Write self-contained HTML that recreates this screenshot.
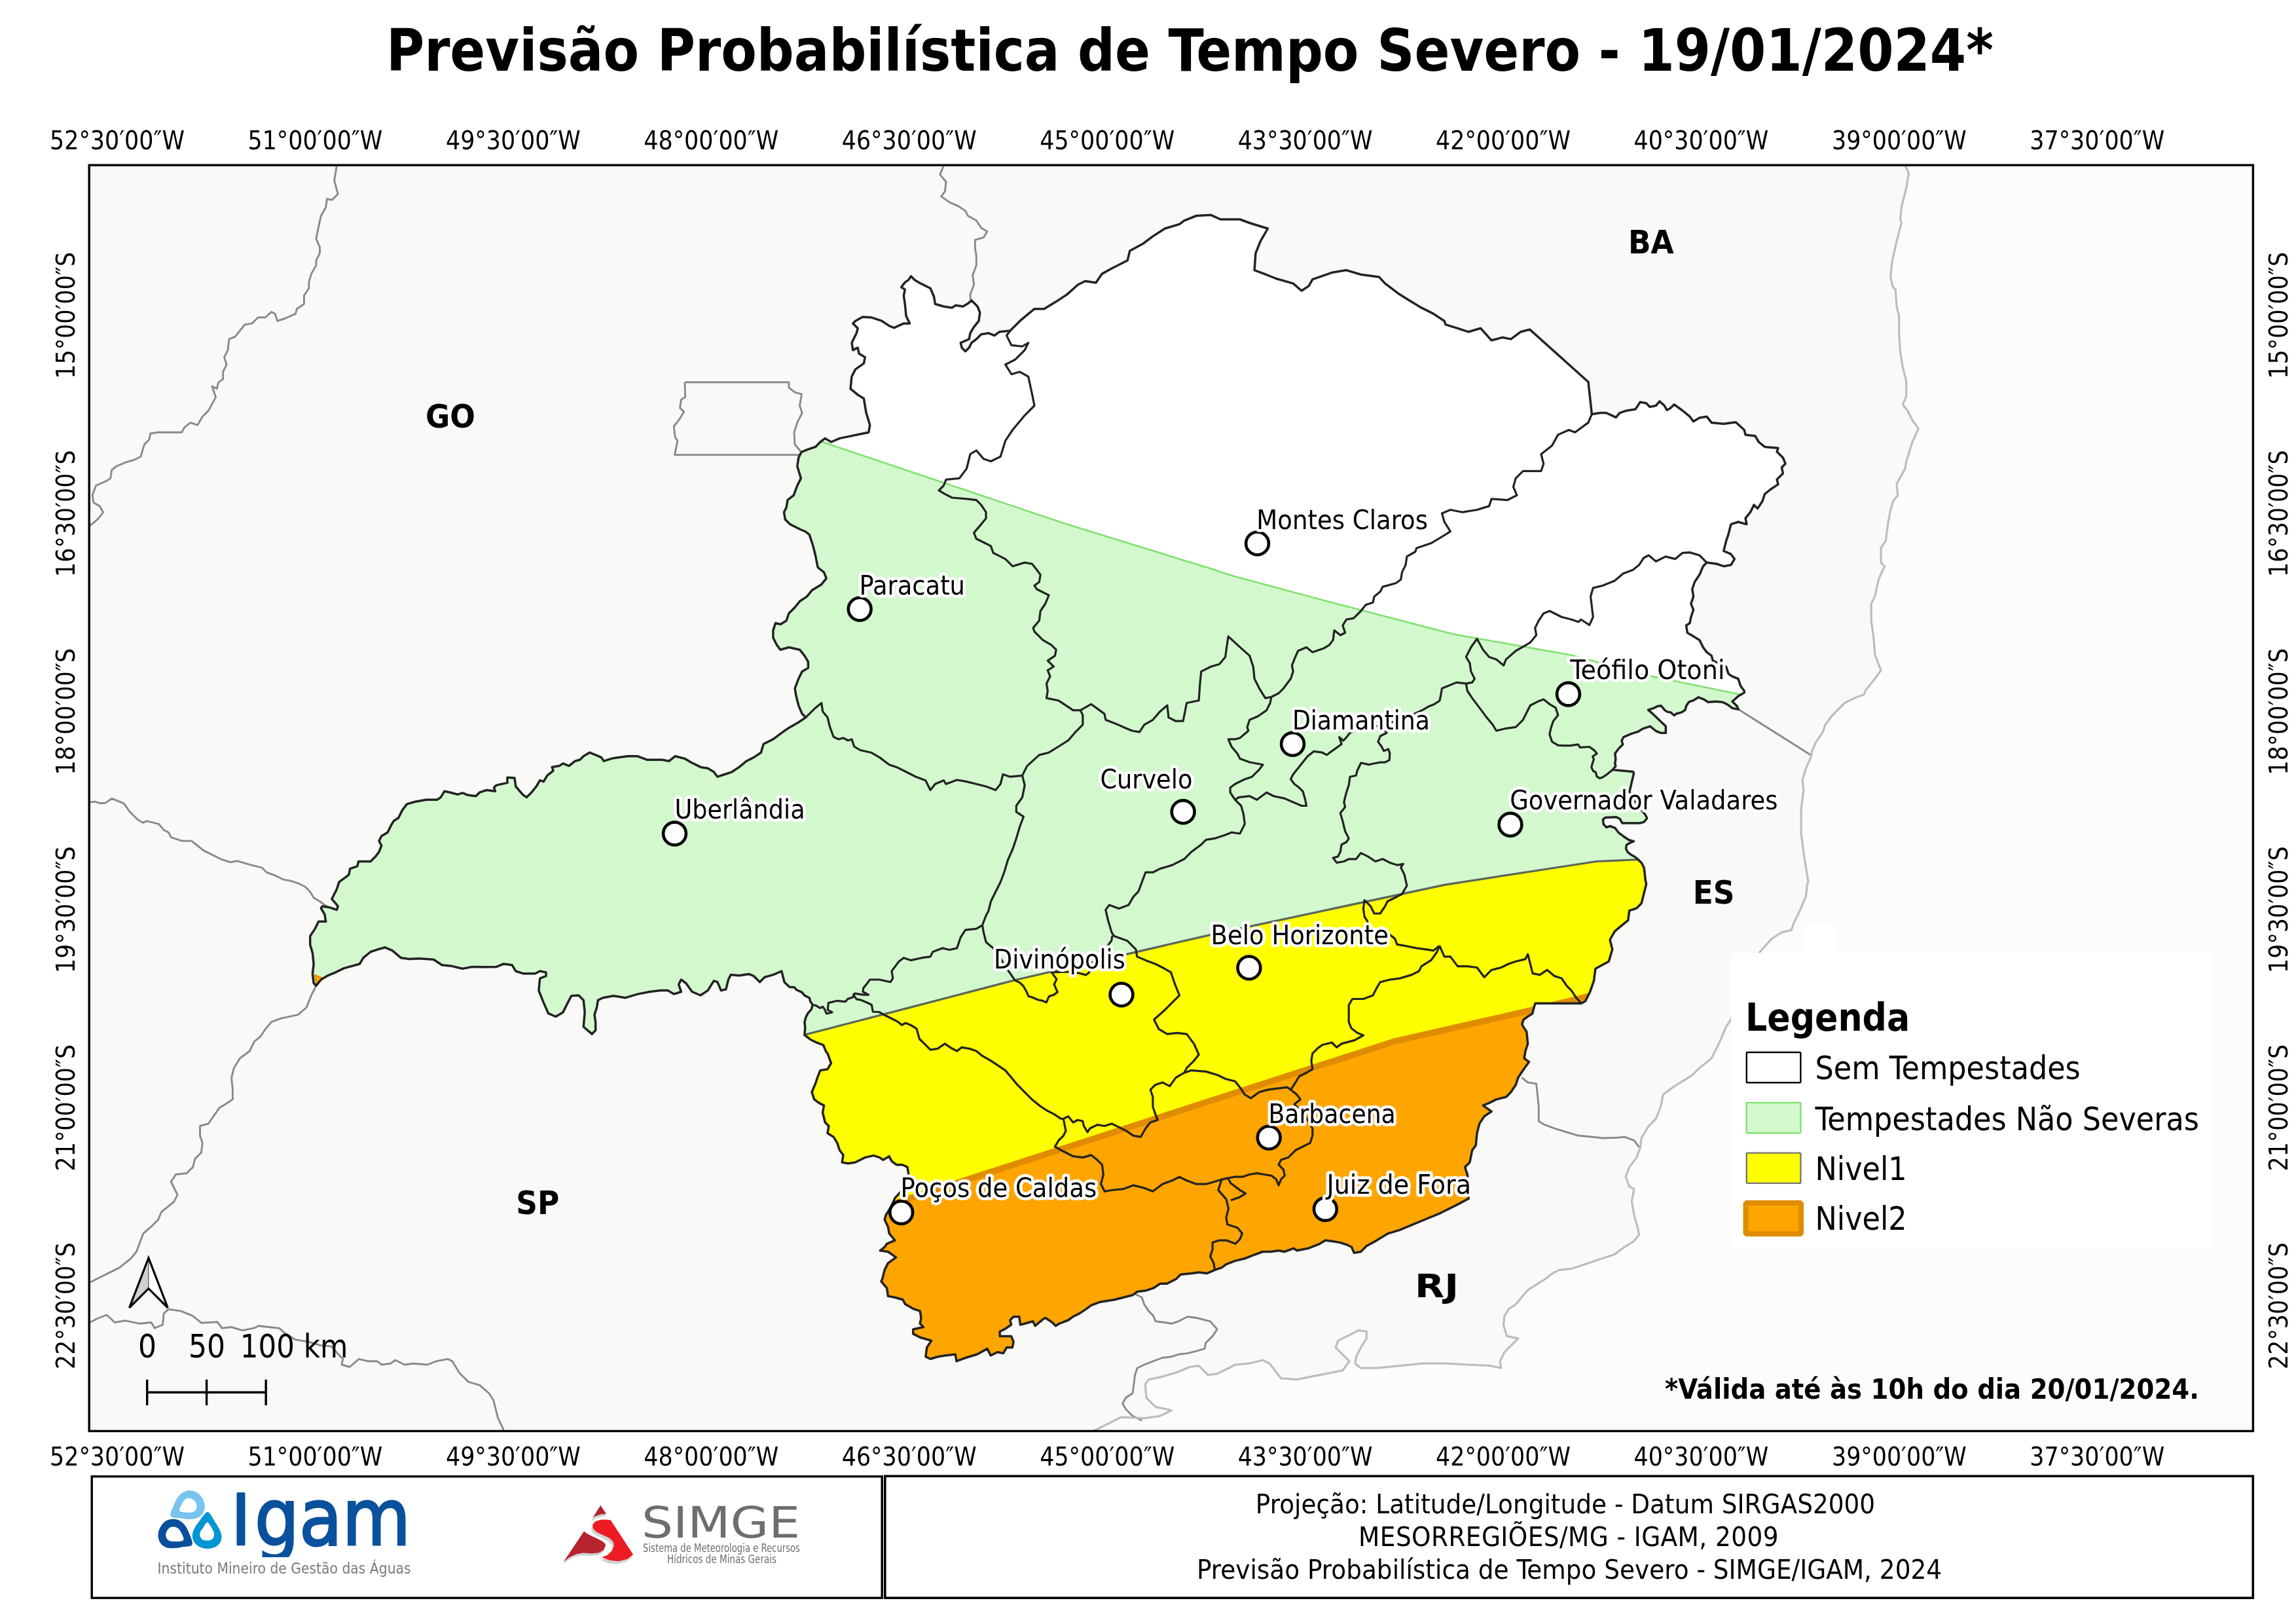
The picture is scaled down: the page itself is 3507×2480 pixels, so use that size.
<!DOCTYPE html>
<html><head><meta charset="utf-8"><title>Previsão Probabilística de Tempo Severo - 19/01/2024</title>
<style>
html,body{margin:0;padding:0;background:#fff;width:3507px;height:2480px;overflow:hidden}
svg{display:block;will-change:transform;font-family:"DejaVu Sans","Liberation Sans",sans-serif;font-stretch:condensed}
</style></head><body>
<svg width="3507" height="2480" viewBox="0 0 3507 2480" xmlns="http://www.w3.org/2000/svg">
<defs>
<clipPath id="mapclip"><rect x="137" y="253" width="3303" height="1931"/></clipPath>
<pattern id="hatch" width="3" height="3" patternUnits="userSpaceOnUse"><rect width="3" height="3" fill="#e4e4e4"/><path d="M0 3L3 0" stroke="#999" stroke-width="0.8"/></pattern>
</defs>
<!-- title -->
<text x="1817.3" y="107.6" font-size="88.4" font-weight="bold" text-anchor="middle">Previsão Probabilística de Tempo Severo - 19/01/2024*</text>

<!-- map background -->
<rect x="137" y="253" width="3303" height="1931" fill="#f9f9f8"/>
<g id="map" clip-path="url(#mapclip)">
<defs><clipPath id="mgc"><path d="M1223.4 691.6L1225.2 689.8 1234.4 686.1 1245.5 682.4 1252.9 675 1260.3 669.4 1269.5 675 1282.5 669.4 1326.8 660.2 1328.7 649.1 1323.1 630.6 1319.4 608.5 1310.2 602.9 1299.1 593.7 1300.9 575.2 1306.5 564.1 1319.5 554.9 1321.3 545.6 1312.1 540.1 1310.2 530.9 1302.8 534.6 1301 523.5 1308.3 508.7 1310.2 501.3 1302.8 493.9 1306.5 490.2 1317.6 483.9 1330.5 484.7 1347.2 490.2 1358.2 497.6 1365.6 500.6 1380.4 493.9 1389.6 493.9 1384.1 482.8 1382.3 464.3 1380.4 451.4 1382.3 442.2 1376.7 438.5 1382.3 431.1 1387.8 427.4 1391.5 421.8 1397 427.4 1406.3 432.9 1421.1 440.3 1426.6 453.3 1428.4 464.3 1441.4 468 1454.3 469.9 1459.8 466.2 1470.9 468 1478.4 463.6 1483.9 458.8 1493.1 468 1496.8 477.3 1495 490.2 1487.6 499.4 1482 508.7 1480.2 517.9 1467.3 523.5 1469.1 530.9 1474.6 536.4 1480.2 530.9 1483.9 523.5 1491.3 517.9 1498.7 510.5 1509.8 508.7 1519 512.4 1526.4 506.8 1543 505 1557.8 490.2 1580 471.7 1594.8 471.7 1613.2 460.6 1629.9 449.6 1646.5 434.8 1657.6 429.2 1674 431.8 1683.3 418.1 1698 410 1722.1 397.8 1725.8 383 1746.1 372 1760.9 360.9 1779.3 349 1801.5 342.4 1808.9 336.8 1827.4 329.5 1849.6 328.3 1864.3 335 1893.9 335 1908.7 340.5 1936.4 349 1925.3 368.3 1917.9 386.7 1916.1 412.6 1930.9 418.1 1949.3 425.5 1975.2 432.9 1988.1 444 1999.2 436.6 2004.8 426.6 2034.3 416.3 2056.5 412.6 2078.7 419.3 2106.4 422.9 2115.6 432.9 2137.8 449.6 2152.6 458.8 2171.1 469.9 2189.5 479.1 2206.2 490.2 2208 495.7 2226.5 501.3 2243.1 506.8 2261.6 501.3 2278.2 519.8 2294.9 515.3 2307.8 517.9 2322.6 506.8 2336.6 503.1 2426 583.3 2431.4 632.5 2444.3 630.6 2453.6 630.6 2468.4 637.3 2473.9 630.6 2485 626.9 2497.9 625.1 2505.3 614 2514.6 615.8 2520.1 621.4 2529.3 619.5 2534.9 612.9 2542.3 619.5 2546 626.2 2551.5 623.2 2557.1 617.7 2570 627 2581.1 636.2 2586.6 643.6 2595.9 638 2606.9 636.2 2614.3 645.4 2632.8 647.3 2651.3 644.7 2664.2 656.5 2666.1 663.9 2680.9 665.7 2686.4 675 2695.6 682.4 2716 684.2 2714.1 689.8 2723.4 699 2727.1 708.2 2721.5 713.8 2723.4 723 2714.1 732.3 2716 739.6 2704.9 747 2695.6 754.4 2691.9 765.5 2684.6 776.6 2679 771.1 2673.5 782.2 2666.1 791.4 2667.9 800.6 2655 797 2643.9 800.6 2640.2 815.4 2636.5 826.5 2632.8 841.3 2643.9 846.2 2649.4 853.6 2643.9 862.8 2632.8 864.7 2621.7 861 2606.9 859.1 2601.4 864.7 2595.9 877.6 2588.5 888.7 2584.8 899.8 2586.6 910.9 2582.9 922 2586.6 931.2 2582.9 942.3 2581.1 951.5 2575.5 955.2 2577.4 966.3 2586.6 971.8 2595.9 977.4 2601.4 988.5 2606.9 995.9 2614.3 1001.4 2616.2 1008.8 2636.5 1018 2640.2 1029.1 2645.7 1032.8 2655 1036.5 2658.7 1047.6 2664.2 1055 2664.5 1057.4 2655.3 1062.9 2646 1071.2 2653.4 1078.6 2655.3 1083.3 2646 1081.4 2638.6 1075.9 2631.2 1072.2 2620.2 1071.2 2609.1 1072.2 2601.7 1067.6 2594.3 1064.8 2586.9 1069.4 2579.5 1072.2 2575.8 1077.7 2574 1084.2 2568.4 1087.9 2561 1089.7 2557.3 1092.5 2551.8 1087.9 2546.3 1086.9 2542.6 1084.2 2537 1077.7 2531.5 1078.6 2525.9 1081.4 2517.6 1084.2 2524.1 1089.7 2544.4 1109.1 2544.4 1119.3 2537 1119.3 2529.6 1116.5 2520.4 1109.1 2509.3 1112.8 2501.9 1117.4 2492.7 1120.2 2479.8 1125.7 2477 1131.3 2478.8 1136.8 2472.4 1143.3 2466.8 1150.7 2467.8 1159 2466.8 1166.4 2467.8 1170.1 2463.1 1175.6 2494.5 1178.4 2495.5 1181.2 2489 1208.9 2500 1228 2513 1244 2515.8 1249.5 2511.2 1255.1 2505.6 1256.9 2477.9 1256.9 2474.2 1250.4 2468.7 1247.7 2452 1248.6 2448.4 1251.4 2449.3 1258.8 2453.9 1263.4 2459.4 1261.5 2466.8 1264.3 2472.4 1271.7 2479.8 1277.2 2488.1 1282.8 2495.5 1284.6 2489 1287.4 2484.4 1290.2 2483.5 1295.7 2486.2 1301.2 2490.8 1304.9 2497.3 1308.6 2501.9 1312.3 2507.5 1317.9 2511.2 1325.3 2512.1 1332.7 2513 1341.9 2514.6 1350 2510.9 1364.8 2507.2 1379.6 2499.8 1387 2488.7 1390.7 2486.8 1405.4 2477.6 1412.8 2466.5 1422.1 2459.1 1435 2462.8 1449.8 2457.3 1468.3 2437 1479.3 2435.5 1490 2434.7 1497.4 2428.6 1514.8 2421.6 1528.8 2415.5 1532.3 2344.9 1532.3 2342.3 1541 2340.6 1548 2333.6 1552.3 2326.7 1557.5 2324.9 1564.5 2328.4 1570.6 2331.8 1575.4 2333.7 1593.9 2330 1605 2328.1 1616.1 2335.5 1621.6 2326.3 1634.6 2318.9 1645.6 2315.2 1656.7 2307.8 1667.8 2300.4 1675.2 2285.6 1678.9 2274.5 1684.4 2265.3 1688.1 2278.2 1697.4 2267.1 1704.8 2259.8 1715.9 2256 1730.6 2254.2 1749.1 2248.7 1756.5 2245 1775 2237.6 1782.4 2241.3 1793.5 2243.1 1808.2 2243.1 1830.4 2224.9 1840.1 2200.5 1852.3 2179.6 1861 2158.7 1869.7 2137.8 1878.4 2120.4 1883.6 2103 1894.1 2087.3 1902.8 2078.6 1911.5 2068.1 1913.2 2064.6 1904.5 2057.7 1901 2047.2 1897.6 2036.8 1895.8 2024.6 1894.1 2015.9 1899.3 1998.4 1906.3 1981 1909.8 1975.8 1906.3 1961.8 1911.5 1953.1 1909.8 1940.9 1911.5 1928.7 1911.5 1914.8 1916.7 1900.9 1922 1886.9 1925.4 1873 1930.7 1866 1935.9 1855.6 1939.4 1843.4 1944.6 1831.2 1942.9 1820.7 1944.6 1803.3 1946.3 1796.3 1953.3 1782.4 1960.3 1772 1960.3 1761.5 1967.2 1751 1970.7 1737.1 1972.5 1730.1 1977.7 1716.2 1981.2 1702.3 1984.7 1680.5 1988.2 1666.6 1993.4 1659.6 1998.6 1649.1 2005.6 1638.7 2010.8 1631.7 2016 1617.8 2021.3 1612.5 2024.7 1607.3 2019.5 1596.9 2012.5 1593.4 2014.3 1581.2 2024.7 1577.7 2017.8 1565.5 2021.3 1558.5 2023 1556.8 2010.8 1548.1 2010.8 1542.9 2016 1544.6 2023 1534.1 2030 1527.2 2033.4 1527.2 2040.4 1544.6 2040.4 1548.1 2049.1 1546.3 2057.8 1537.6 2057.8 1532.4 2066.6 1523.7 2064.8 1513.2 2070 1508 2059.6 1492.3 2068.3 1474.9 2073.5 1461 2078.7 1459.2 2068.3 1443.6 2070 1433.1 2071.8 1421 2075.3 1413.9 2071.8 1415.7 2057.8 1422.6 2047.4 1405.2 2042.2 1394.8 2036.9 1394.8 2030 1410.5 2026.5 1405.2 2021.3 1407 2012.5 1405.2 2002.1 1394.8 1998.6 1382.6 1991.6 1379.1 1984.7 1366.9 1981.2 1356.4 1979.4 1354.7 1967.2 1346 1956.8 1347.7 1953.3 1351.2 1939.4 1356.4 1928.9 1368.6 1920.2 1356.4 1911.5 1344.3 1909.8 1351.2 1904.5 1354.7 1899.3 1366.9 1894.1 1358.2 1883.6 1356.4 1873.2 1351.2 1862.7 1353 1855.7 1361.7 1841.8 1366.9 1829.6 1374 1822 1384 1810 1387.8 1793.5 1386 1782.4 1378.6 1778.7 1369.3 1778.7 1361.9 1773.1 1358.2 1765.7 1349 1771.3 1343.5 1767.6 1334.3 1764.6 1321.3 1767.6 1306.5 1775 1295.4 1776.8 1286.2 1775 1288 1763.9 1282.5 1756.5 1278.8 1745.4 1273.2 1736.2 1264 1730.6 1265.9 1719.5 1260.3 1714 1256.6 1699.2 1258.5 1688.1 1251.1 1684.4 1243.7 1678.9 1240 1667.8 1245.5 1654.9 1249.2 1643.8 1252.9 1634.6 1264 1632.7 1269.5 1623.5 1264 1608.7 1261.4 1605.4 1257.6 1595.8 1247.1 1592 1237.5 1587.2 1228.9 1580.5 1229.8 1569 1228.9 1561.3 1230.8 1553.7 1233.7 1547.9 1239.4 1541.2 1241.3 1534.5 1237.5 1528.7 1236.5 1524 1228.9 1520.1 1225 1515.3 1216.4 1511.5 1213.5 1507.7 1205.9 1507.2 1198.2 1500 1193.8 1483 1180.9 1488.6 1167.9 1492.3 1160.5 1499.7 1151.3 1490.4 1143.9 1487.5 1129.1 1489.7 1116.2 1488.6 1112.5 1496 1108.8 1510.8 1101.4 1512.6 1095.9 1499.7 1090.3 1497.8 1081.1 1512.6 1070 1520 1057.1 1514.5 1047.8 1501.5 1040.4 1496 1036.7 1503.4 1040.4 1514.5 1029.3 1518.1 1020.1 1512.6 1009 1512.6 992.4 1514.5 973.9 1518.1 955.4 1523.7 937 1520.7 920.8 1523.7 913.4 1527.4 911.6 1538.5 908 1549.6 909.7 1560.6 909.7 1573.6 904.2 1579.1 891.3 1568 893.2 1545.9 891.3 1527.4 883.9 1520 872.8 1520.7 867.3 1531.1 859.9 1545.9 848.8 1552.5 837.7 1547.7 830.3 1531.1 822.9 1512.6 824.7 1494.1 834 1490.4 834 1484.9 824.7 1483 817.4 1486.7 798.9 1486.7 787.8 1483 782.3 1473.8 769.3 1472 758.2 1476.4 739.8 1476.8 721.3 1476.4 706.5 1479.3 688 1474.9 675.1 1473.8 662.2 1465.3 640 1463.8 625.2 1464.6 612.3 1462.7 599.3 1451.6 588.2 1446.8 577.2 1449.8 566.1 1453.5 555 1462.7 549.4 1472 525.4 1478.6 512.5 1484.9 499.5 1490.4 490.3 1496 482.9 1505.2 479.2 1501.5 477.4 1486.7 479.2 1472 477.4 1455.3 473.7 1442.4 473.7 1429.5 481.1 1418.4 486.6 1407.3 497.7 1407.3 495.8 1396.2 490.3 1387 492.2 1383.9 503.2 1385.7 514.3 1389.4 516.2 1383.9 506.9 1372.8 514.3 1358 518 1346.9 525.4 1341.4 532.8 1335.8 534.7 1326.6 545.7 1322.9 547.6 1315.5 566.1 1315.5 573.5 1308.1 579 1300.7 582.7 1291.5 579 1284.1 582.7 1276.7 592 1271.2 597.5 1260.1 601.2 1253.8 608.6 1249 614.1 1237.9 621.5 1227.9 634.4 1224.2 651.1 1221.3 667.7 1221.3 673.2 1217.6 678.8 1208.3 688 1210.2 699.1 1213.2 706.5 1210.9 713.9 1213.9 726.8 1215.7 732.4 1210.2 743.4 1206.5 756.4 1208.3 754.5 1202.8 758.2 1199.1 774.9 1195.4 774.9 1187.3 785.9 1188 787.8 1201 798.9 1213.9 804.4 1217.6 811.8 1210.2 819.2 1201 824.7 1191.7 830.3 1193.6 835.8 1184.3 845.1 1176.9 843.2 1171.4 854.3 1169.6 859.9 1165.9 869.1 1169.6 878.4 1162.2 885.7 1160.3 891.3 1154.8 900.5 1149.2 909.7 1152.9 918.5 1156.6 922.2 1162.2 937 1157.7 959.1 1154.8 973.9 1154.8 988.7 1160.3 1010.9 1160.3 1022 1162.2 1031.2 1154.8 1046 1158.5 1055.2 1164 1070 1171.4 1081.1 1173.2 1090.3 1178.8 1095.9 1186.2 1106.9 1182.5 1118 1178.8 1129.1 1171.4 1140.2 1162.2 1151.3 1156.6 1162.4 1149.2 1166.1 1136.3 1180.9 1128.9 1195.6 1117.8 1206.7 1110.4 1219.7 1103 1230.7 1095.6 1225.2 1090.1 1219.7 1077.2 1216 1062.4 1214.1 1051.3 1219.7 1036.5 1225.2 1025.4 1234.4 1019.9 1234.4 1010.6 1228.9 1001.4 1221.5 992.2 1204.9 988.5 1191.9 992.2 1186.4 984.8 1180.9 973.7 1180.9 962.6 1184.6 951.5 1191.9 953.4 1201.2 947.8 1204.9 936.7 1214.1 927.5 1221.5 918.3 1232.6 910.9 1240 901.6 1254.8 892.4 1262.2 883.1 1258.5 873.9 1249.2 866.5 1245.5 848 1241.8 833.3 1236.3 816.6 1230.7 812 1221.5 808 1206.7 800.6 1199.3 793.2 1197.5 782.2 1201.2 774.8 1203 763.7 1212.3 756.3 1217.8 741.5 1223.4 730.4 1217.8 712 1219.7 699Z"/></clipPath></defs>
<path d="M2910 253L2915.5 264.8 2911.8 287 2904.4 316.5 2902.6 335 2904.4 340.5 2897 368.3 2889.7 401.5 2887.8 423.7 2891.5 438.5 2895.2 442.2 2897 468 2900.7 482.8 2900.7 508.7 2902.6 538.2 2906.3 560.4 2911.8 582.6 2911.8 604.8 2906.3 617.7 2913.7 627 2921.1 641.7 2930.3 654.7 2921.1 675 2911.8 704.5 2910 715.6 2902.6 728.6 2897 739.6 2898.9 756.3 2891.5 765.5 2887.8 778.5 2884.1 797 2880.4 825.9 2873 837 2873 859.1 2878.6 864.7 2869.3 885 2863.8 910.9 2858.2 922 2858.2 947.8 2861.9 973.7 2863.8 999.6 2869.3 1014.3 2873 1023.6 2863.8 1036.5 2849 1055 2847.2 1060.5 2832.4 1066.1 2817.6 1073.5 2799.1 1092 2788 1106.7 2784.3 1117.8 2773.2 1134.4 2767.7 1147.4 2765.9 1156.6 2758.5 1173.2 2753 1191.7 2754.8 1206.5 2751.1 1236.1 2751.1 1273 2756.6 1313.7 2762.2 1346.9 2760.3 1350 2758.5 1368.5 2749.2 1390.7 2740 1409.1 2736.3 1420.2 2721.5 1423.9 2706.7 1433.1 2688.2 1453.5 2670 1480 2655 1520 2643.9 1557 2636.5 1568 2625.4 1593.9 2614.3 1616.1 2595.9 1630.9 2584.8 1641.9 2570 1651.2 2555.2 1660.4 2540.4 1671.5 2536.7 1690 2529.3 1708.5 2518.3 1719.5 2507.2 1738 2505.3 1752.8 2499.8 1767.6 2488.7 1782.4 2483.1 1797.2 2488.7 1812 2496.1 1815.6 2492.4 1834.1 2496.1 1856.3 2501.6 1874.8 2503.5 1885.8 2496.1 1895.1 2481.3 1904.3 2466.5 1915.4 2444.3 1922.8 2422.2 1930.2 2400 1937.6 2381.7 1939.4 2371.3 1944.6 2357.3 1955.1 2343.4 1963.8 2332.9 1970.7 2324.2 1981.2 2315.5 1991.6 2305 1998.6 2298.1 2009.1 2296.4 2023 2301.6 2040.4 2319 2043.9 2312 2050.9 2298.1 2064.8 2291.1 2078.7 2292.9 2089.2 2277.2 2085.7 2242.3 2084 2207.5 2082.2 2172.6 2082.2 2137.8 2085.7 2103 2089.2 2078.6 2089.2 2069.9 2082.2 2071.6 2071.8 2078.6 2057.8 2087.3 2043.9 2087.3 2033.4 2075.1 2031.7 2057.7 2040.4 2043.7 2047.4 2040.2 2057.8 2050.7 2068.3 2061.1 2078.7 2050.7 2092.7 2033.3 2096.2 1998.4 2103.1 1981 2106.6 1956.6 2104.9 1939.2 2082.2 1928.7 2077 1907.8 2082.2 1886.9 2084 1873 2091 1859.1 2097.9 1845.1 2099.7 1831.2 2085.7 1817.2 2087.5 1796.3 2096.2 1772 2103.1 1754.5 2106.6 1749.3 2113.6 1751 2134.5 1765 2148.4 1789.4 2153.7 1772 2162.4 1747.6 2165.9 1712.7 2164.1 1677.9 2181.5 1660 2190 3440 2190 3440 253Z" fill="#fcfcfc"/>
<path d="M514.3 253L510.6 275.9 516.2 296.2 507 305.4 499.5 303.6 497.7 316.5 490.3 329.5 486.6 346.1 482.9 364.6 488.5 377.5 488.5 386.7 482.9 397.8 482.9 405.2 475.5 418.1 471.8 431.1 471.8 440.3 464.4 451.4 464.4 464.3 453.4 471.7 451.5 479.1 434.9 486.5 423.8 490.2 420.1 479.1 414.5 476.2 405.3 484.7 394.2 484.7 385 493.9 373.9 495.7 366.5 505 359.1 514.2 349.9 517.9 348 534.6 342.5 545.6 346.2 556.7 340.6 567.8 340.6 578.9 333.3 584.4 331.4 593.7 324 590 329.6 606.6 318.5 626.9 309.2 636.2 301.8 649.1 290.8 645.4 281.5 652.8 277.8 660.2 266.7 660.2 259.3 660.2 240.9 660.2 229.8 662 227.9 671.3 220.5 678.7 215 697.2 203.9 702.7 191 706.4 178 712 170.7 717.5 168.8 730.4 163.3 734.1 146.6 741.5 141.1 756.3 142.9 767.4 152.2 772.9 157.7 782.2 152.2 789.5 144.8 797 137.4 802.5 130 806" fill="none" stroke="#8a8a8a" stroke-width="2.9" stroke-linejoin="round"/>
<path d="M130 1226L137.4 1225 144.8 1224.2 154 1226.8 161.4 1226.1 170.7 1219.4 189.1 1226.8 198.4 1239.8 209.5 1250.9 218.7 1256.4 224.2 1253.8 242.7 1258.3 250.1 1267.5 257.5 1271.2 261.2 1278.6 277.8 1284.1 292.6 1284.1 301.8 1291.5 311.1 1298.9 322.2 1304.4 336.9 1311.8 351.7 1316.6 362.8 1314.8 381.3 1320.3 399.8 1324.8 407.2 1332.2 421.9 1337.7 433 1343.2 444.1 1345.1 455.2 1348.8 466.3 1354.3 473.7 1361.7 479.2 1371 488.5 1376.5 495.8 1382 503.2 1385.7" fill="none" stroke="#8a8a8a" stroke-width="2.9" stroke-linejoin="round"/>
<path d="M482.9 1505.2L475.5 1520 468.1 1538.5 455.2 1549.6 429.3 1555.1 414.5 1560.6 405.3 1571.7 397.9 1582.8 388.7 1590.2 381.3 1605 366.5 1616.1 357.3 1630.9 353.6 1645.6 355.4 1664.1 355.4 1678.9 344.3 1686.3 335.1 1691.8 325.9 1704.8 318.5 1715.8 305.5 1719.5 305.5 1734.3 309.2 1745.4 307.4 1760.2 298.1 1769.4 294.5 1782.4 285.2 1791.6 268.6 1793.5 261.2 1804.5 264.1 1810.5 271.1 1824.4 265.9 1834.8 255.4 1843.6 246.7 1850.5 241.5 1862.7 231 1873.2 218.9 1883.6 213.6 1897.6 208.4 1911.5 199.7 1922 182.3 1935.9 168.3 1942.9 154.4 1949.8 137 1958.5 130 1962" fill="none" stroke="#8a8a8a" stroke-width="2.9" stroke-linejoin="round"/>
<path d="M130 2022L137 2019.5 150.9 2012.5 163.1 2008 175.3 2019.5 191 2016.7 213.6 2021.3 231 2019.5 236.3 2028.2 248.5 2023 250.2 2005.6 257.2 1999.3 276.3 2002.1 293.8 2009.1 307.7 2020.2 332.1 2018.8 339.1 2028.2 353 2026.5 370.4 2031.7 387.8 2028.2 394.8 2024.7 426.2 2028.2 436.6 2036.9 450.6 2045.6 471.5 2049.1 488.9 2054.4 506.3 2056.1 516.8 2068.3 523.7 2075.3 522 2084 534.2 2087.5 548.1 2075.3 562 2078.7 576 2078.7 583 2084 596.9 2082.2 603.9 2077 617.8 2084 631.7 2082.2 652.6 2084 666.6 2078.7 684 2075.3 691 2078.7 701.4 2096.2 715.4 2110.1 732.8 2115.3 746.7 2127.5 753.7 2138 757.2 2151.9 760.7 2165.9 767.6 2179.8 771.1 2190" fill="none" stroke="#8a8a8a" stroke-width="2.9" stroke-linejoin="round"/>
<path d="M1441.4 253L1435.8 266.6 1445.1 277.7 1443.2 292.5 1437.7 299.9 1450.6 309.1 1463.6 314.7 1474.7 322.1 1478.4 329.5 1491.3 336.8 1498.7 347.9 1507.9 353.5 1502.4 362.7 1489.4 366.4 1489.4 379.3 1491.3 390.4 1491.3 405.2 1485.7 420 1487.6 434.8 1482 449.6 1482.5 458" fill="none" stroke="#8a8a8a" stroke-width="2.9" stroke-linejoin="round"/>
<path d="M1046 583.7L1204.9 583.7 1204.9 591.8 1214.1 599.2 1224.5 601.8 1221.5 619.5 1225.2 630.6 1217.8 645.4 1213 660.2 1214.1 678.7 1223.4 689.8 1223.4 694.6 1030.5 694.6 1034.9 673.1 1031.2 667.6 1029.3 651 1036.7 641.7 1044.9 628.8 1038.6 623.2 1040.4 610.3 1046.7 606.6 1046 583.7" fill="none" stroke="#8a8a8a" stroke-width="2.9" stroke-linejoin="round"/>
<path d="M2655.3 1083.3L2765.9 1152.9" fill="none" stroke="#8a8a8a" stroke-width="2.9" stroke-linejoin="round"/>
<path d="M2324.4 1645.6L2333.7 1653 2346.6 1654.9 2348.4 1671.5 2350.3 1690 2350.3 1712.2 2359.5 1717.7 2374.3 1723.2 2392.8 1728.8 2411.1 1734.3 2433.3 1736.2 2448 1738 2470.2 1737.3 2481.3 1736.2 2496.1 1741.7 2501.6 1749.1 2505.3 1752.8" fill="none" stroke="#8a8a8a" stroke-width="2.9" stroke-linejoin="round"/>
<path d="M1733.6 1976L1744.1 1981.2 1747.6 1991.6 1754.5 2002.1 1761.5 2009.1 1765 2017.8 1778.9 2019.5 1789.4 2021.3 1799.8 2017.8 1813.8 2010.8 1827.7 2012.5 1848.6 2017.8 1859.1 2030 1852.1 2040.4 1841.6 2050.9 1839.9 2059.6 1827.7 2063.1 1813.8 2066.6 1799.8 2068.3 1789.4 2071.8 1775.4 2073.5 1761.5 2078.7 1747.6 2084 1737.1 2089.2 1733.6 2099.7 1731.9 2113.6 1730.1 2127.5 1719.7 2134.5 1714.5 2143.2 1719.7 2151.9 1730.1 2162.4 1744.1 2169.3" fill="none" stroke="#8a8a8a" stroke-width="2.9" stroke-linejoin="round"/>
<path d="M2910 253L2915.5 264.8 2911.8 287 2904.4 316.5 2902.6 335 2904.4 340.5 2897 368.3 2889.7 401.5 2887.8 423.7 2891.5 438.5 2895.2 442.2 2897 468 2900.7 482.8 2900.7 508.7 2902.6 538.2 2906.3 560.4 2911.8 582.6 2911.8 604.8 2906.3 617.7 2913.7 627 2921.1 641.7 2930.3 654.7 2921.1 675 2911.8 704.5 2910 715.6 2902.6 728.6 2897 739.6 2898.9 756.3 2891.5 765.5 2887.8 778.5 2884.1 797 2880.4 825.9 2873 837 2873 859.1 2878.6 864.7 2869.3 885 2863.8 910.9 2858.2 922 2858.2 947.8 2861.9 973.7 2863.8 999.6 2869.3 1014.3 2873 1023.6 2863.8 1036.5 2849 1055 2847.2 1060.5 2832.4 1066.1 2817.6 1073.5 2799.1 1092 2788 1106.7 2784.3 1117.8 2773.2 1134.4 2767.7 1147.4 2765.9 1156.6 2758.5 1173.2 2753 1191.7 2754.8 1206.5 2751.1 1236.1 2751.1 1273 2756.6 1313.7 2762.2 1346.9 2760.3 1350 2758.5 1368.5 2749.2 1390.7 2740 1409.1 2736.3 1420.2 2721.5 1423.9 2706.7 1433.1 2688.2 1453.5 2670 1480 2655 1520 2643.9 1557 2636.5 1568 2625.4 1593.9 2614.3 1616.1 2595.9 1630.9 2584.8 1641.9 2570 1651.2 2555.2 1660.4 2540.4 1671.5 2536.7 1690 2529.3 1708.5 2518.3 1719.5 2507.2 1738 2505.3 1752.8 2499.8 1767.6 2488.7 1782.4 2483.1 1797.2 2488.7 1812 2496.1 1815.6 2492.4 1834.1 2496.1 1856.3 2501.6 1874.8 2503.5 1885.8 2496.1 1895.1 2481.3 1904.3 2466.5 1915.4 2444.3 1922.8 2422.2 1930.2 2400 1937.6 2381.7 1939.4 2371.3 1944.6 2357.3 1955.1 2343.4 1963.8 2332.9 1970.7 2324.2 1981.2 2315.5 1991.6 2305 1998.6 2298.1 2009.1 2296.4 2023 2301.6 2040.4 2319 2043.9 2312 2050.9 2298.1 2064.8 2291.1 2078.7 2292.9 2089.2 2277.2 2085.7 2242.3 2084 2207.5 2082.2 2172.6 2082.2 2137.8 2085.7 2103 2089.2 2078.6 2089.2 2069.9 2082.2 2071.6 2071.8 2078.6 2057.8 2087.3 2043.9 2087.3 2033.4 2075.1 2031.7 2057.7 2040.4 2043.7 2047.4 2040.2 2057.8 2050.7 2068.3 2061.1 2078.7 2050.7 2092.7 2033.3 2096.2 1998.4 2103.1 1981 2106.6 1956.6 2104.9 1939.2 2082.2 1928.7 2077 1907.8 2082.2 1886.9 2084 1873 2091 1859.1 2097.9 1845.1 2099.7 1831.2 2085.7 1817.2 2087.5 1796.3 2096.2 1772 2103.1 1754.5 2106.6 1749.3 2113.6 1751 2134.5 1765 2148.4 1789.4 2153.7 1772 2162.4 1747.6 2165.9 1712.7 2164.1 1677.9 2181.5 1660 2190" fill="none" stroke="#bdbdbd" stroke-width="3.2" stroke-linejoin="round"/>
<g clip-path="url(#mgc)">
<rect x="400" y="250" width="2400" height="1900" fill="#ffffff"/>
<path d="M300 352L1100 622 1256.6 675 1628 800 1790.4 850.2 1850 868.5 1883.3 879.6 2035.1 920.3 2220.2 968.5 2397.9 1000 2516.4 1031.4 2660.8 1061 2760 1082 2760 2300 300 2300Z" fill="#d3f8ce"/>
<path d="M300 1616L1100 1613.6 1231.7 1579.5 1400 1535.9 1550 1496.7 1846.6 1428.1 2207.1 1351.1 2438.1 1315.5 2503.3 1312.6 2620 1310 2620 2300 300 2300Z" fill="#ffff00"/>
<path d="M1300 1859L1387.8 1830.4 1650 1745.4 2130.4 1590.2 2250 1563 2341.1 1542.2 2423.3 1522 2520 1498 2520 2300 1300 2300Z" fill="#ffa500"/>
<path d="M300 352L1100 622 1256.6 675 1628 800 1790.4 850.2 1850 868.5 1883.3 879.6 2035.1 920.3 2220.2 968.5 2397.9 1000 2516.4 1031.4 2660.8 1061 2760 1082" fill="none" stroke="#7ee26d" stroke-width="2.6"/>
<path d="M300 1616L1100 1613.6 1231.7 1579.5 1400 1535.9 1550 1496.7 1846.6 1428.1 2207.1 1351.1 2438.1 1315.5 2503.3 1312.6 2620 1310" fill="none" stroke="#5c665a" stroke-width="3.2"/>
<path d="M1300 1859L1387.8 1830.4 1650 1745.4 2130.4 1590.2 2250 1563 2341.1 1542.2 2423.3 1522 2520 1498" fill="none" stroke="#e08c00" stroke-width="9.5"/>
</g>
<path d="M481 1489L494 1494L483 1503Z" fill="#ffa500" stroke="#e08c00" stroke-width="2"/>
<path d="M1543 505L1537.5 512.4 1544.9 527.2 1561.5 529 1570.7 523.5 1565.2 534.6 1550.4 549.3 1535.6 556.7 1544.9 571.5 1557.8 567.8 1570.7 575.2 1576.3 601.1 1580 619.5 1565.2 634.3 1546.7 656.5 1535.6 673.1 1528.2 697.2 1513.5 704.5 1502.4 700.8 1491.3 687.9 1482 693.5 1476.5 715.6 1465.4 730.4 1445.1 732.3 1441.4 741.5 1434 748.9 1443.2 754.4 1454.3 760 1476.5 761.8 1491.3 763.7 1498.7 771.1 1506.1 782.2 1506.1 791.4 1498.7 800.6 1487.6 813.6 1491.3 822.8 1502.4 828.3 1513.5 833.9 1517.1 844.3 1535.6 853.6 1546.7 864.7 1565.2 859.1 1576.3 861 1583.7 870.2 1589.2 877.6 1587.4 888.7 1580 894.2 1583.7 899.8 1591.1 903.5 1602.1 909 1596.6 922 1589.2 933 1587.4 947.8 1578.1 958.9 1580 964.5 1592.9 977.4 1605.8 984.8 1613.2 992.2 1611.4 1001.4 1600.3 1008.8 1609.5 1018 1600.3 1023.6 1604 1032.8 1598.5 1043.9 1600.3 1055 1598.5 1066.1 1616.9 1069.8 1628 1077.2 1639.1 1084.6 1650.2 1084.6" fill="none" stroke="#232323" stroke-width="3.2" stroke-linejoin="round"/>
<path d="M1230.7 1095.6L1245.5 1080.9 1254.8 1073.5 1256.6 1086.4 1264 1095.6 1267.7 1110.4 1273.2 1125.2 1280.6 1128.9 1288 1127 1295.4 1130.7 1301 1128.9 1304.7 1140 1313.9 1145.5 1330.5 1149.2 1343.5 1156.6 1358.2 1167.7 1369.3 1171.4 1384.1 1178.8 1398.9 1186.2 1413.7 1191.7 1421.1 1206.5 1428.4 1197.3 1441.4 1191.7 1445.1 1197.3 1461.7 1191 1476.5 1193.6 1491.3 1197.3 1506.1 1201 1520.8 1206.5 1528.2 1197.3 1531.9 1182.5 1543 1186.2 1561.5 1184.3" fill="none" stroke="#232323" stroke-width="3.2" stroke-linejoin="round"/>
<path d="M1561.5 1184.3L1568.9 1169.6 1587.4 1152.9 1602.1 1149.2 1616.9 1140 1631.7 1130.7 1642.8 1117.8 1653.9 1106.7 1653.9 1091.9 1650.2 1084.6" fill="none" stroke="#232323" stroke-width="3.2" stroke-linejoin="round"/>
<path d="M1561.5 1184.3L1565.2 1199.1 1561.5 1217.6 1552.3 1230.5 1552.3 1239.8 1563.4 1247.2 1557.8 1262 1552.3 1280.4 1546.7 1297 1539.3 1313.7 1533.8 1332.2 1528.2 1347 1520.8 1361.7 1513.5 1376.5 1509.8 1391.3 1506.1 1398 1500.5 1412.8 1491.3 1418.4 1474.6 1420.2 1467.3 1431.3 1461.7 1447.9 1450.6 1450.5 1439.5 1447.9 1424.8 1453.5 1421.1 1460.9 1408.1 1462.7 1391.5 1466.4 1380.4 1462.7 1373 1468.3 1367.5 1475.6 1362 1483 1363.8 1494.1 1360.1 1499.7 1343.5 1496 1328.7 1496 1323.7 1502.9 1318.9 1508.6 1318 1514.4 1326.6 1519.2 1318.9 1519.2 1305.5 1517.2 1303.6 1519.2 1302.7 1523 1295 1525.4 1291.2 1529.7 1278.7 1528.3 1265.3 1531.6 1264.3 1542.2 1271 1546 1262.4 1547.9 1259.5 1541.2 1256.7 1537.4 1252.8 1539.3 1246.1 1535.5 1241.3 1534.5" fill="none" stroke="#232323" stroke-width="3.2" stroke-linejoin="round"/>
<path d="M1303.6 1519.2L1308.4 1525.9 1314.2 1526.8 1323.7 1530.7 1331.4 1534.5 1333.3 1545 1342.9 1545.5 1352.5 1550.8 1364 1556.5 1371.6 1560.4 1377.4 1565.2 1383.1 1562.3 1390.8 1565.2 1400 1570.9 1404.4 1586.5 1413.7 1595.7 1421.1 1603.1 1432.2 1601.3 1443.2 1593.9 1454.3 1601.3 1461.7 1605 1469.1 1599.4 1480.2 1601.3 1491.3 1605 1500.5 1612.4 1513.5 1619.8 1524.5 1627.2 1535.6 1634.6 1544.9 1645.6 1554.1 1656.7 1565.2 1667.8 1576.3 1678.9 1587.4 1688.1 1598.4 1695.5 1609.5 1701.1 1620.6 1708.5 1624.3 1708.5 1631.7 1704.8 1639.1 1714 1646.5 1710.3 1653.9 1712.2 1655.5 1719.5 1661.1 1728.8 1664.8 1723.2 1675.9 1717.7 1687 1719.5 1698 1715.9 1709.1 1721.4 1720.2 1726.9 1731.3 1734.3 1742.4 1736.2 1749.8 1723.2 1757.2 1714 1768.3 1710.3 1764.6 1701.1 1760.9 1690 1760.9 1675.2 1757.2 1664.1 1764.6 1656.7 1775.6 1653 1786.7 1658.6 1796 1645.6 1808.9 1638.2" fill="none" stroke="#232323" stroke-width="3.2" stroke-linejoin="round"/>
<path d="M1500.5 1412.8L1502.4 1423.9 1506.1 1438.7 1517.1 1447.9 1524.5 1457.2 1535 1475 1550 1496.7 1557.8 1500.6 1563.1 1505.8 1568.3 1515 1570.9 1521.5 1576.1 1522.8 1585.3 1526.7 1591.8 1528.1 1598.3 1530.7 1602.3 1521.5 1610.1 1518.9 1615.3 1515 1610.1 1503.2 1614 1495.4 1606.2 1484.9 1630 1484 1649.3 1486.2 1658.5 1488.9 1662.4 1486.2 1680 1462 1693.7 1441.8 1697.7 1436.6 1699 1428.7" fill="none" stroke="#232323" stroke-width="3.2" stroke-linejoin="round"/>
<path d="M1624.3 1708.5L1628 1727 1624.3 1734.3 1616.9 1741.7 1611.4 1751 1624.3 1758.3 1639.1 1765.7 1653.9 1767.6 1666.8 1763.9 1676 1771.3 1683.4 1778.7 1685.3 1793.5 1681.6 1808.2 1687.2 1819.3 1698 1817.5 1716.5 1815.6 1731.3 1810.1 1746.1 1813.8 1760.9 1819.3 1775.6 1808.2 1790.4 1802.7 1801.5 1797.2 1812.6 1802.7 1827.4 1808.2 1842.2 1808.2 1855.1 1804.5 1860.6 1802.7 1875.4 1799" fill="none" stroke="#232323" stroke-width="3.2" stroke-linejoin="round"/>
<path d="M1808.9 1638.2L1820 1634.6 1842.2 1636.4 1860.6 1642 1871.7 1647.5 1886.5 1651.2 1893.9 1660.4 1901.3 1671.5 1910.5 1677.1 1923.5 1667.8 1936.4 1664.1 1949.3 1662.3 1966 1660.4 1971.5 1664.1 1980.7 1671.5 1986.3 1678.9 1977.1 1686.3 1991.8 1701.1 2004.8 1723.2 2004.8 1734.3 2001.1 1745.4 1990 1751 1978.9 1756.5 1967.8 1767.6 1956.7 1771.3 1953 1778.7 1960.4 1786.1 1962.3 1795.3 1956.7 1800.9 1953 1810.1 1949.3 1800.9 1941.9 1795.3 1930.9 1793.5 1919.8 1791.6 1908.7 1793.5 1897.6 1797.2 1886.5 1797.2 1875.4 1799 1866 1801 1860.8 1817.4 1873 1831.4 1876.5 1845.3 1873 1859.2 1874.7 1869.7 1890.4 1874.9 1897.4 1883.6 1893.9 1892.3 1886.9 1899.3 1873 1894.1 1862.5 1894.1 1852.1 1897.6 1852.1 1908 1848.6 1918.5 1853.8 1928.9 1855.6 1939.4" fill="none" stroke="#232323" stroke-width="3.2" stroke-linejoin="round"/>
<path d="M1875.4 1799L1880 1807 1893.9 1817.4 1902.6 1822.6 1893.9 1827.9 1880 1833.1" fill="none" stroke="#232323" stroke-width="3.2" stroke-linejoin="round"/>
<path d="M1971.5 1664.1L1978.9 1653 1984.4 1643.8 1995.5 1638.2 2004.8 1632.7 2002.9 1619.8 2004.8 1608.7 2012.2 1601.3 2019.5 1595.7 2034.3 1592 2041.7 1599.4 2049.1 1593.9 2069.4 1588.4 2082.4 1581 2073.1 1577.3 2063.9 1569.9 2060.2 1560.6 2060.2 1549.6 2060.2 1534.8 2065.7 1525.5 2082.4 1525.5 2097.1 1520 2102.7 1508.9 2108.2 1499.7 2123 1496 2137.8 1494.1 2156.3 1488.6 2167.4 1483 2171.1 1475.6 2185.9 1466.4 2195.1 1453.5 2198.8 1444.2" fill="none" stroke="#232323" stroke-width="3.2" stroke-linejoin="round"/>
<path d="M2198.8 1444.2L2206.2 1460.9 2215.4 1460.9 2226.5 1475.6 2241.3 1475.6 2256 1477.5 2267.1 1492.3 2278.2 1481.2 2293 1477.5 2304.1 1472 2315.2 1468.3 2330 1464.6 2333.7 1457.2 2337.4 1472 2341.1 1486.7 2352.1 1488.6 2363.2 1481.2 2374.3 1490.4 2385.4 1494.1 2392.8 1505.2 2400.2 1512.6 2407.6 1523.7 2415.5 1532.3" fill="none" stroke="#232323" stroke-width="3.2" stroke-linejoin="round"/>
<path d="M2198.8 1444.2L2189.5 1451.6 2178.5 1449.8 2163.7 1447.9 2145.2 1444.2 2134.1 1442.4 2130.4 1433.1 2123 1427.6 2104.5 1422.1 2091.6 1416.5 2087.9 1405.4 2084.2 1400.1 2082.4 1387.6 2084.2 1374.7 2093.5 1383.9 2099 1395 2108.2 1395 2115.6 1383.9 2119.3 1376.5 2130.4 1371 2141.5 1365.4 2148.9 1352.5 2145.2 1335.8 2139.7 1324.8 2143.3 1319.2 2134.1 1321.1 2123 1317.4 2112 1311.8 2100.8 1315.5 2089.8 1308.1 2078.7 1302.6 2071.3 1311.8 2060.2 1311.8 2052.8 1315.5 2041.7 1317.4 2036.2 1310 2043.6 1308.1 2047.3 1300.7 2049.1 1289.7 2056.5 1286 2060.2 1280.4 2054.6 1269.3 2051 1254.5 2047.3 1241.6 2054.6 1232.4 2052.8 1225 2056.5 1210.2 2060.2 1199.1 2062 1186.2 2071.3 1184.3 2073.1 1177 2078.8 1165 2091 1167.6 2099.7 1165.8 2108.4 1164.1 2115.4 1164.1 2122.3 1160.6 2122.8 1150.1 2120.6 1144 2113.6 1146.7 2110.1 1139.7 2104.9 1132.7 2108.4 1124 2118 1119.2 2110 1108" fill="none" stroke="#232323" stroke-width="3.2" stroke-linejoin="round"/>
<path d="M2110 1108L2075 1112 2061.4 1119.7 2056.1 1126.6 2051.8 1131 2045.7 1125.7 2049.2 1136.2 2042.2 1141.4 2030 1150.1 2026.9 1152.9 2019.5 1149.2 2006.6 1147.4 1997.4 1154.8 1990 1164 1982.6 1173.2 1975.2 1182.5 1971.5 1189.9 1977 1197.3 1984.4 1202.8 1990 1208.3 1993.7 1221.3 1995.5 1230.5 1988.1 1230.5 1975.2 1225 1962.3 1219.4 1945.6 1215.7 1934.6 1210.2 1919.8 1221.3 1908.7 1215.7 1892 1217.6 1886.5 1221.3" fill="none" stroke="#232323" stroke-width="3.2" stroke-linejoin="round"/>
<path d="M1941.9 1064.2L1940.1 1073.5 1934.6 1084.6 1921.6 1093.8 1908.7 1099.3 1905 1110.4 1906.8 1116 1893.9 1127 1886.5 1128.9 1876.2 1128.9 1881 1140 1890.2 1151.1 1893.9 1158.5 1908.7 1164 1929 1167.7 1923.5 1175.1 1912.4 1186.2 1901.3 1189.9 1886.5 1197.3 1879.1 1202.8 1879.1 1210.2 1886.5 1221.3 1895.8 1230.5 1899.4 1243.5 1901.3 1258.3 1893.9 1273 1881 1271.2 1871.7 1274.9 1855.1 1280.4 1842.2 1282.3 1834.8 1289.7 1820 1300.7 1808.9 1311.8 1790.4 1321.1 1772 1326.6 1760.9 1332.2 1749.8 1332.2 1744.2 1347 1738.7 1361.7 1731.3 1369.1 1723.9 1382 1709.1 1387.6 1694.3 1382 1688.8 1389.4 1692.5 1405.4 1698 1423.9 1701.7 1429.5 1722.1 1436.8 1735 1449.8 1736.8 1460.9 1749.8 1466.4 1764.6 1472 1775.6 1477.5 1788.6 1484.9 1794.1 1501.5 1801.5 1520 1792.3 1529.2 1779.3 1542.2 1762.7 1557 1770.1 1571.7 1783 1579.1 1797.8 1577.3 1812.6 1579.1 1823.7 1593.9 1831.1 1610.5 1823.7 1619.8 1812.6 1630.9 1808.9 1638.2" fill="none" stroke="#232323" stroke-width="3.2" stroke-linejoin="round"/>
<path d="M2431.4 632.5L2426 645.4 2405.7 660.2 2396.5 656.5 2379.8 663.9 2370.6 680.5 2354 693.5 2357.7 708.2 2354 719.3 2341.1 719.3 2326.3 719.3 2315.2 730.4 2311.5 743.4 2317 756.3 2302.3 763.7 2278.2 761.8 2274.5 772.9 2256 778.5 2233.9 782.2 2215.4 778.5 2202.5 784 2206.2 797 2215.4 811.7 2204.3 818.5 2185.9 829.6 2174.8 833.3 2163.7 837 2161.8 842.5 2148.9 849.9 2147 862.8 2141.5 873.9 2139.7 885 2132.3 890.5 2111.9 896.1 2108.2 903.5 2099 910.9 2097.1 920.1 2086.1 923.8 2078.7 933 2067.6 944.1 2056.5 946 2050.9 955.2 2054.6 966.3 2047.3 970 2038 962.6 2036.2 977.4 2030.6 984.8 2021.4 990.3 2004.8 995.9 1995.5 988.5 1982.6 994 1977 1006.9 1973.4 1016.2 1975.2 1025.4 1971.5 1036.5 1960.4 1051.3 1953 1058.7 1941.9 1064.2" fill="none" stroke="#232323" stroke-width="3.2" stroke-linejoin="round"/>
<path d="M1650.2 1084.6L1666.6 1075.3 1687 1090.1 1688.8 1099.3 1703.6 1104.9 1720.2 1112.3 1729.5 1116 1740.5 1117.8 1747.9 1106.7 1760.9 1099.3 1772 1086.4 1783 1077.2 1784.9 1095.6 1796 1101.2 1807.1 1101.2 1812.6 1073.5 1831.1 1069.8 1832.9 1043.9 1834.8 1025.4 1849.6 1018 1862.5 1014.3 1871.7 1003.3 1873.6 988.5 1876.2 971.8 1890.2 984.8 1908.7 1001.4 1914.2 1018 1916.1 1036.5 1923.5 1051.3 1932.7 1066.1 1941.9 1064.2" fill="none" stroke="#232323" stroke-width="3.2" stroke-linejoin="round"/>
<path d="M2110 1108L2150 1095 2173.7 1083.9 2182.4 1078.7 2191.2 1075.2 2199 1070 2200.6 1062.4 2202.5 1051.3 2211.7 1047.6 2224.7 1042.1 2239.4 1043.9 2248.7 1042.1 2252.4 1036.5 2246.8 1025.4 2245 1012.5 2239.4 1003.3 2246.8 988.5 2256 975.5 2265.3 992.2 2274.5 1003.3 2285.6 1006.9 2296.7 1016.2 2300.4 1006.9 2315.2 994 2328.1 986.6 2337.4 981.1 2346.6 970 2344.8 958.9 2350.3 947.8 2357.7 936.7 2366.9 933 2385.4 942.3 2400.2 946 2411.3 949.7 2414.8 946 2427.7 954.5 2433.3 942.3 2429.6 910.9 2433.3 897.9 2448 894.2 2466.5 886.8 2479.5 875.8 2494.2 870.2 2503.5 862.8 2510.9 851.7 2518.3 848 2529.3 857.3 2544.1 849.9 2558.9 853.6 2570 844.3 2581.1 843.6 2595.9 848 2606.9 859.1" fill="none" stroke="#232323" stroke-width="3.2" stroke-linejoin="round"/>
<path d="M2239.4 1043.9L2241.3 1055 2248.7 1066.1 2259.8 1080.9 2270.8 1095.6 2280.1 1106.7 2285.6 1116 2300.4 1112.3 2315.2 1110.4 2326.3 1099.3 2331.8 1088.2 2337.4 1077.2 2348.4 1071.6 2357.7 1067.9 2366.9 1075.3 2376.2 1080.9 2379.8 1091.9 2372.5 1101.2 2368.8 1112.3 2366.9 1121.5 2370.6 1132.6 2379.8 1138.1 2387.4 1138.7 2398.5 1138.7 2410.5 1136.8 2413.3 1141.4 2428 1140.5 2435.4 1146.1 2439.1 1150.7 2432.7 1155.3 2434.5 1159.9 2432.7 1164.5 2430.8 1171.9 2433.6 1177.5 2437.3 1179.3 2439.1 1185.8 2443.7 1188.6 2448.4 1186.7 2453.9 1183 2463.1 1175.6" fill="none" stroke="#232323" stroke-width="3.2" stroke-linejoin="round"/>
<path d="M1223.4 691.6L1225.2 689.8 1234.4 686.1 1245.5 682.4 1252.9 675 1260.3 669.4 1269.5 675 1282.5 669.4 1326.8 660.2 1328.7 649.1 1323.1 630.6 1319.4 608.5 1310.2 602.9 1299.1 593.7 1300.9 575.2 1306.5 564.1 1319.5 554.9 1321.3 545.6 1312.1 540.1 1310.2 530.9 1302.8 534.6 1301 523.5 1308.3 508.7 1310.2 501.3 1302.8 493.9 1306.5 490.2 1317.6 483.9 1330.5 484.7 1347.2 490.2 1358.2 497.6 1365.6 500.6 1380.4 493.9 1389.6 493.9 1384.1 482.8 1382.3 464.3 1380.4 451.4 1382.3 442.2 1376.7 438.5 1382.3 431.1 1387.8 427.4 1391.5 421.8 1397 427.4 1406.3 432.9 1421.1 440.3 1426.6 453.3 1428.4 464.3 1441.4 468 1454.3 469.9 1459.8 466.2 1470.9 468 1478.4 463.6 1483.9 458.8 1493.1 468 1496.8 477.3 1495 490.2 1487.6 499.4 1482 508.7 1480.2 517.9 1467.3 523.5 1469.1 530.9 1474.6 536.4 1480.2 530.9 1483.9 523.5 1491.3 517.9 1498.7 510.5 1509.8 508.7 1519 512.4 1526.4 506.8 1543 505 1557.8 490.2 1580 471.7 1594.8 471.7 1613.2 460.6 1629.9 449.6 1646.5 434.8 1657.6 429.2 1674 431.8 1683.3 418.1 1698 410 1722.1 397.8 1725.8 383 1746.1 372 1760.9 360.9 1779.3 349 1801.5 342.4 1808.9 336.8 1827.4 329.5 1849.6 328.3 1864.3 335 1893.9 335 1908.7 340.5 1936.4 349 1925.3 368.3 1917.9 386.7 1916.1 412.6 1930.9 418.1 1949.3 425.5 1975.2 432.9 1988.1 444 1999.2 436.6 2004.8 426.6 2034.3 416.3 2056.5 412.6 2078.7 419.3 2106.4 422.9 2115.6 432.9 2137.8 449.6 2152.6 458.8 2171.1 469.9 2189.5 479.1 2206.2 490.2 2208 495.7 2226.5 501.3 2243.1 506.8 2261.6 501.3 2278.2 519.8 2294.9 515.3 2307.8 517.9 2322.6 506.8 2336.6 503.1 2426 583.3 2431.4 632.5 2444.3 630.6 2453.6 630.6 2468.4 637.3 2473.9 630.6 2485 626.9 2497.9 625.1 2505.3 614 2514.6 615.8 2520.1 621.4 2529.3 619.5 2534.9 612.9 2542.3 619.5 2546 626.2 2551.5 623.2 2557.1 617.7 2570 627 2581.1 636.2 2586.6 643.6 2595.9 638 2606.9 636.2 2614.3 645.4 2632.8 647.3 2651.3 644.7 2664.2 656.5 2666.1 663.9 2680.9 665.7 2686.4 675 2695.6 682.4 2716 684.2 2714.1 689.8 2723.4 699 2727.1 708.2 2721.5 713.8 2723.4 723 2714.1 732.3 2716 739.6 2704.9 747 2695.6 754.4 2691.9 765.5 2684.6 776.6 2679 771.1 2673.5 782.2 2666.1 791.4 2667.9 800.6 2655 797 2643.9 800.6 2640.2 815.4 2636.5 826.5 2632.8 841.3 2643.9 846.2 2649.4 853.6 2643.9 862.8 2632.8 864.7 2621.7 861 2606.9 859.1 2601.4 864.7 2595.9 877.6 2588.5 888.7 2584.8 899.8 2586.6 910.9 2582.9 922 2586.6 931.2 2582.9 942.3 2581.1 951.5 2575.5 955.2 2577.4 966.3 2586.6 971.8 2595.9 977.4 2601.4 988.5 2606.9 995.9 2614.3 1001.4 2616.2 1008.8 2636.5 1018 2640.2 1029.1 2645.7 1032.8 2655 1036.5 2658.7 1047.6 2664.2 1055 2664.5 1057.4 2655.3 1062.9 2646 1071.2 2653.4 1078.6 2655.3 1083.3 2646 1081.4 2638.6 1075.9 2631.2 1072.2 2620.2 1071.2 2609.1 1072.2 2601.7 1067.6 2594.3 1064.8 2586.9 1069.4 2579.5 1072.2 2575.8 1077.7 2574 1084.2 2568.4 1087.9 2561 1089.7 2557.3 1092.5 2551.8 1087.9 2546.3 1086.9 2542.6 1084.2 2537 1077.7 2531.5 1078.6 2525.9 1081.4 2517.6 1084.2 2524.1 1089.7 2544.4 1109.1 2544.4 1119.3 2537 1119.3 2529.6 1116.5 2520.4 1109.1 2509.3 1112.8 2501.9 1117.4 2492.7 1120.2 2479.8 1125.7 2477 1131.3 2478.8 1136.8 2472.4 1143.3 2466.8 1150.7 2467.8 1159 2466.8 1166.4 2467.8 1170.1 2463.1 1175.6 2494.5 1178.4 2495.5 1181.2 2489 1208.9 2500 1228 2513 1244 2515.8 1249.5 2511.2 1255.1 2505.6 1256.9 2477.9 1256.9 2474.2 1250.4 2468.7 1247.7 2452 1248.6 2448.4 1251.4 2449.3 1258.8 2453.9 1263.4 2459.4 1261.5 2466.8 1264.3 2472.4 1271.7 2479.8 1277.2 2488.1 1282.8 2495.5 1284.6 2489 1287.4 2484.4 1290.2 2483.5 1295.7 2486.2 1301.2 2490.8 1304.9 2497.3 1308.6 2501.9 1312.3 2507.5 1317.9 2511.2 1325.3 2512.1 1332.7 2513 1341.9 2514.6 1350 2510.9 1364.8 2507.2 1379.6 2499.8 1387 2488.7 1390.7 2486.8 1405.4 2477.6 1412.8 2466.5 1422.1 2459.1 1435 2462.8 1449.8 2457.3 1468.3 2437 1479.3 2435.5 1490 2434.7 1497.4 2428.6 1514.8 2421.6 1528.8 2415.5 1532.3 2344.9 1532.3 2342.3 1541 2340.6 1548 2333.6 1552.3 2326.7 1557.5 2324.9 1564.5 2328.4 1570.6 2331.8 1575.4 2333.7 1593.9 2330 1605 2328.1 1616.1 2335.5 1621.6 2326.3 1634.6 2318.9 1645.6 2315.2 1656.7 2307.8 1667.8 2300.4 1675.2 2285.6 1678.9 2274.5 1684.4 2265.3 1688.1 2278.2 1697.4 2267.1 1704.8 2259.8 1715.9 2256 1730.6 2254.2 1749.1 2248.7 1756.5 2245 1775 2237.6 1782.4 2241.3 1793.5 2243.1 1808.2 2243.1 1830.4 2224.9 1840.1 2200.5 1852.3 2179.6 1861 2158.7 1869.7 2137.8 1878.4 2120.4 1883.6 2103 1894.1 2087.3 1902.8 2078.6 1911.5 2068.1 1913.2 2064.6 1904.5 2057.7 1901 2047.2 1897.6 2036.8 1895.8 2024.6 1894.1 2015.9 1899.3 1998.4 1906.3 1981 1909.8 1975.8 1906.3 1961.8 1911.5 1953.1 1909.8 1940.9 1911.5 1928.7 1911.5 1914.8 1916.7 1900.9 1922 1886.9 1925.4 1873 1930.7 1866 1935.9 1855.6 1939.4 1843.4 1944.6 1831.2 1942.9 1820.7 1944.6 1803.3 1946.3 1796.3 1953.3 1782.4 1960.3 1772 1960.3 1761.5 1967.2 1751 1970.7 1737.1 1972.5 1730.1 1977.7 1716.2 1981.2 1702.3 1984.7 1680.5 1988.2 1666.6 1993.4 1659.6 1998.6 1649.1 2005.6 1638.7 2010.8 1631.7 2016 1617.8 2021.3 1612.5 2024.7 1607.3 2019.5 1596.9 2012.5 1593.4 2014.3 1581.2 2024.7 1577.7 2017.8 1565.5 2021.3 1558.5 2023 1556.8 2010.8 1548.1 2010.8 1542.9 2016 1544.6 2023 1534.1 2030 1527.2 2033.4 1527.2 2040.4 1544.6 2040.4 1548.1 2049.1 1546.3 2057.8 1537.6 2057.8 1532.4 2066.6 1523.7 2064.8 1513.2 2070 1508 2059.6 1492.3 2068.3 1474.9 2073.5 1461 2078.7 1459.2 2068.3 1443.6 2070 1433.1 2071.8 1421 2075.3 1413.9 2071.8 1415.7 2057.8 1422.6 2047.4 1405.2 2042.2 1394.8 2036.9 1394.8 2030 1410.5 2026.5 1405.2 2021.3 1407 2012.5 1405.2 2002.1 1394.8 1998.6 1382.6 1991.6 1379.1 1984.7 1366.9 1981.2 1356.4 1979.4 1354.7 1967.2 1346 1956.8 1347.7 1953.3 1351.2 1939.4 1356.4 1928.9 1368.6 1920.2 1356.4 1911.5 1344.3 1909.8 1351.2 1904.5 1354.7 1899.3 1366.9 1894.1 1358.2 1883.6 1356.4 1873.2 1351.2 1862.7 1353 1855.7 1361.7 1841.8 1366.9 1829.6 1374 1822 1384 1810 1387.8 1793.5 1386 1782.4 1378.6 1778.7 1369.3 1778.7 1361.9 1773.1 1358.2 1765.7 1349 1771.3 1343.5 1767.6 1334.3 1764.6 1321.3 1767.6 1306.5 1775 1295.4 1776.8 1286.2 1775 1288 1763.9 1282.5 1756.5 1278.8 1745.4 1273.2 1736.2 1264 1730.6 1265.9 1719.5 1260.3 1714 1256.6 1699.2 1258.5 1688.1 1251.1 1684.4 1243.7 1678.9 1240 1667.8 1245.5 1654.9 1249.2 1643.8 1252.9 1634.6 1264 1632.7 1269.5 1623.5 1264 1608.7 1261.4 1605.4 1257.6 1595.8 1247.1 1592 1237.5 1587.2 1228.9 1580.5 1229.8 1569 1228.9 1561.3 1230.8 1553.7 1233.7 1547.9 1239.4 1541.2 1241.3 1534.5 1237.5 1528.7 1236.5 1524 1228.9 1520.1 1225 1515.3 1216.4 1511.5 1213.5 1507.7 1205.9 1507.2 1198.2 1500 1193.8 1483 1180.9 1488.6 1167.9 1492.3 1160.5 1499.7 1151.3 1490.4 1143.9 1487.5 1129.1 1489.7 1116.2 1488.6 1112.5 1496 1108.8 1510.8 1101.4 1512.6 1095.9 1499.7 1090.3 1497.8 1081.1 1512.6 1070 1520 1057.1 1514.5 1047.8 1501.5 1040.4 1496 1036.7 1503.4 1040.4 1514.5 1029.3 1518.1 1020.1 1512.6 1009 1512.6 992.4 1514.5 973.9 1518.1 955.4 1523.7 937 1520.7 920.8 1523.7 913.4 1527.4 911.6 1538.5 908 1549.6 909.7 1560.6 909.7 1573.6 904.2 1579.1 891.3 1568 893.2 1545.9 891.3 1527.4 883.9 1520 872.8 1520.7 867.3 1531.1 859.9 1545.9 848.8 1552.5 837.7 1547.7 830.3 1531.1 822.9 1512.6 824.7 1494.1 834 1490.4 834 1484.9 824.7 1483 817.4 1486.7 798.9 1486.7 787.8 1483 782.3 1473.8 769.3 1472 758.2 1476.4 739.8 1476.8 721.3 1476.4 706.5 1479.3 688 1474.9 675.1 1473.8 662.2 1465.3 640 1463.8 625.2 1464.6 612.3 1462.7 599.3 1451.6 588.2 1446.8 577.2 1449.8 566.1 1453.5 555 1462.7 549.4 1472 525.4 1478.6 512.5 1484.9 499.5 1490.4 490.3 1496 482.9 1505.2 479.2 1501.5 477.4 1486.7 479.2 1472 477.4 1455.3 473.7 1442.4 473.7 1429.5 481.1 1418.4 486.6 1407.3 497.7 1407.3 495.8 1396.2 490.3 1387 492.2 1383.9 503.2 1385.7 514.3 1389.4 516.2 1383.9 506.9 1372.8 514.3 1358 518 1346.9 525.4 1341.4 532.8 1335.8 534.7 1326.6 545.7 1322.9 547.6 1315.5 566.1 1315.5 573.5 1308.1 579 1300.7 582.7 1291.5 579 1284.1 582.7 1276.7 592 1271.2 597.5 1260.1 601.2 1253.8 608.6 1249 614.1 1237.9 621.5 1227.9 634.4 1224.2 651.1 1221.3 667.7 1221.3 673.2 1217.6 678.8 1208.3 688 1210.2 699.1 1213.2 706.5 1210.9 713.9 1213.9 726.8 1215.7 732.4 1210.2 743.4 1206.5 756.4 1208.3 754.5 1202.8 758.2 1199.1 774.9 1195.4 774.9 1187.3 785.9 1188 787.8 1201 798.9 1213.9 804.4 1217.6 811.8 1210.2 819.2 1201 824.7 1191.7 830.3 1193.6 835.8 1184.3 845.1 1176.9 843.2 1171.4 854.3 1169.6 859.9 1165.9 869.1 1169.6 878.4 1162.2 885.7 1160.3 891.3 1154.8 900.5 1149.2 909.7 1152.9 918.5 1156.6 922.2 1162.2 937 1157.7 959.1 1154.8 973.9 1154.8 988.7 1160.3 1010.9 1160.3 1022 1162.2 1031.2 1154.8 1046 1158.5 1055.2 1164 1070 1171.4 1081.1 1173.2 1090.3 1178.8 1095.9 1186.2 1106.9 1182.5 1118 1178.8 1129.1 1171.4 1140.2 1162.2 1151.3 1156.6 1162.4 1149.2 1166.1 1136.3 1180.9 1128.9 1195.6 1117.8 1206.7 1110.4 1219.7 1103 1230.7 1095.6 1225.2 1090.1 1219.7 1077.2 1216 1062.4 1214.1 1051.3 1219.7 1036.5 1225.2 1025.4 1234.4 1019.9 1234.4 1010.6 1228.9 1001.4 1221.5 992.2 1204.9 988.5 1191.9 992.2 1186.4 984.8 1180.9 973.7 1180.9 962.6 1184.6 951.5 1191.9 953.4 1201.2 947.8 1204.9 936.7 1214.1 927.5 1221.5 918.3 1232.6 910.9 1240 901.6 1254.8 892.4 1262.2 883.1 1258.5 873.9 1249.2 866.5 1245.5 848 1241.8 833.3 1236.3 816.6 1230.7 812 1221.5 808 1206.7 800.6 1199.3 793.2 1197.5 782.2 1201.2 774.8 1203 763.7 1212.3 756.3 1217.8 741.5 1223.4 730.4 1217.8 712 1219.7 699Z" fill="none" stroke="#232323" stroke-width="3.5" stroke-linejoin="round"/>
</g>
<circle cx="1920.5" cy="829.9" r="17.4" fill="#fff" stroke="#000" stroke-width="4.6"/>
<circle cx="1313.2" cy="930.1" r="17.4" fill="#fff" stroke="#000" stroke-width="4.6"/>
<circle cx="1030.5" cy="1273" r="17.4" fill="#fff" stroke="#000" stroke-width="4.6"/>
<circle cx="1974.5" cy="1136.3" r="17.4" fill="#fff" stroke="#000" stroke-width="4.6"/>
<circle cx="1807.1" cy="1239.8" r="17.4" fill="#fff" stroke="#000" stroke-width="4.6"/>
<circle cx="2395.5" cy="1060" r="17.4" fill="#fff" stroke="#000" stroke-width="4.6"/>
<circle cx="2307" cy="1259.3" r="17.4" fill="#fff" stroke="#000" stroke-width="4.6"/>
<circle cx="1713" cy="1518.9" r="17.4" fill="#fff" stroke="#000" stroke-width="4.6"/>
<circle cx="1907.9" cy="1477.9" r="17.4" fill="#fff" stroke="#000" stroke-width="4.6"/>
<circle cx="1938.2" cy="1737.3" r="17.4" fill="#fff" stroke="#000" stroke-width="4.6"/>
<circle cx="2024.4" cy="1846.5" r="17.4" fill="#fff" stroke="#000" stroke-width="4.6"/>
<circle cx="1376.7" cy="1851.5" r="17.4" fill="#fff" stroke="#000" stroke-width="4.6"/>
<g font-size="41.2" stroke="#fff" stroke-width="9" stroke-linejoin="round" paint-order="stroke" fill="#000">
<text x="1919.3" y="807.6" textLength="261.7" lengthAdjust="spacingAndGlyphs">Montes Claros</text>
<text x="1312.5" y="908" textLength="161.5" lengthAdjust="spacingAndGlyphs">Paracatu</text>
<text x="1030.4" y="1250.2" textLength="199.2" lengthAdjust="spacingAndGlyphs">Uberlândia</text>
<text x="1973.9" y="1113.9" textLength="210" lengthAdjust="spacingAndGlyphs">Diamantina</text>
<text x="1680.4" y="1204" textLength="141" lengthAdjust="spacingAndGlyphs">Curvelo</text>
<text x="2398.3" y="1037" textLength="236.2" lengthAdjust="spacingAndGlyphs">Teófilo Otoni</text>
<text x="2306.2" y="1236.3" textLength="409.2" lengthAdjust="spacingAndGlyphs">Governador Valadares</text>
<text x="1518.1" y="1478.8" textLength="200.7" lengthAdjust="spacingAndGlyphs">Divinópolis</text>
<text x="1849.6" y="1442.4" textLength="271.5" lengthAdjust="spacingAndGlyphs">Belo Horizonte</text>
<text x="1937.5" y="1714.8" textLength="194.3" lengthAdjust="spacingAndGlyphs">Barbacena</text>
<text x="2026.4" y="1823" textLength="220.7" lengthAdjust="spacingAndGlyphs">Juiz de Fora</text>
<text x="1375.6" y="1828.3" textLength="299.6" lengthAdjust="spacingAndGlyphs">Poços de Caldas</text>
</g>
<g font-size="50.5" font-weight="bold" text-anchor="middle">
<text x="688" y="652.8">GO</text>
<text x="2521.9" y="386.7">BA</text>
<text x="2617.7" y="1380.2">ES</text>
<text x="821.3" y="1854.2">SP</text>
<text x="2194.5" y="1981" textLength="67" lengthAdjust="spacingAndGlyphs">RJ</text>
</g>
<path d="M226.9 1921L197.6 1997L226.9 1967.7Z" fill="url(#hatch)"/>
<path d="M226.9 1921L256.2 1997L226.9 1967.7Z" fill="#fff"/>
<path d="M226.9 1921V1967.7" stroke="#000" stroke-width="0.8"/>
<path d="M226.9 1921L197.6 1997L226.9 1967.7L256.2 1997Z" fill="none" stroke="#000" stroke-width="3.2" stroke-linejoin="miter"/>
<path d="M224.7 2126.3H406.2M224.7 2106.7V2146M315.6 2106.7V2146M406.2 2106.7V2146" stroke="#000" stroke-width="3.4" fill="none"/>
<g font-size="49"><text x="225" y="2072.9" text-anchor="middle">0</text><text x="316" y="2072.9" text-anchor="middle">50</text><text x="366.8" y="2072.9" textLength="164.5" lengthAdjust="spacingAndGlyphs">100 km</text></g>
<rect x="2644" y="1455" width="734" height="452" fill="#fff"/>
<rect x="2757" y="1411" width="46" height="44" fill="#fff"/>
<text x="2666" y="1574.3" font-size="58" font-weight="bold">Legenda</text>
<rect x="2667.8" y="1607" width="82.6" height="46.3" fill="#fff" stroke="#000" stroke-width="2.4" rx="1.5"/>
<rect x="2667.8" y="1683.9" width="82.6" height="46.3" fill="#d3f8ce" stroke="#7ee26d" stroke-width="2.4" rx="1.5"/>
<rect x="2667.8" y="1760.6" width="82.6" height="46.3" fill="#ffff00" stroke="#777" stroke-width="2.4" rx="1.5"/>
<rect x="2666.5" y="1836.9" width="84.5" height="47.3" fill="#ffa500" stroke="#e08c00" stroke-width="8" stroke-linejoin="bevel"/>
<g font-size="49.5">
<text x="2772.5" y="1648.2">Sem Tempestades</text>
<text x="2772.5" y="1725.7">Tempestades Não Severas</text>
<text x="2772.5" y="1801.8">Nivel1</text>
<text x="2772.5" y="1877.9">Nivel2</text>
</g>
<text x="2951" y="2135.8" font-size="43" font-weight="bold" text-anchor="middle">*Válida até às 10h do dia 20/01/2024.</text>
<!-- map frame -->
<rect x="136.2" y="252.2" width="3305.2" height="1933.2" fill="none" stroke="#000" stroke-width="3.4"/>

<!-- lon labels -->
<g font-size="38.75" text-anchor="middle">
<text x="179" y="228.4">52°30′00″W</text>
<text x="481.4" y="228.4">51°00′00″W</text>
<text x="783.9" y="228.4">49°30′00″W</text>
<text x="1086.3" y="228.4">48°00′00″W</text>
<text x="1388.7" y="228.4">46°30′00″W</text>
<text x="1691.2" y="228.4">45°00′00″W</text>
<text x="1993.6" y="228.4">43°30′00″W</text>
<text x="2296" y="228.4">42°00′00″W</text>
<text x="2598.4" y="228.4">40°30′00″W</text>
<text x="2900.9" y="228.4">39°00′00″W</text>
<text x="3203.3" y="228.4">37°30′00″W</text>
<text x="179" y="2238">52°30′00″W</text>
<text x="481.4" y="2238">51°00′00″W</text>
<text x="783.9" y="2238">49°30′00″W</text>
<text x="1086.3" y="2238">48°00′00″W</text>
<text x="1388.7" y="2238">46°30′00″W</text>
<text x="1691.2" y="2238">45°00′00″W</text>
<text x="1993.6" y="2238">43°30′00″W</text>
<text x="2296" y="2238">42°00′00″W</text>
<text x="2598.4" y="2238">40°30′00″W</text>
<text x="2900.9" y="2238">39°00′00″W</text>
<text x="3203.3" y="2238">37°30′00″W</text>
</g>
<!-- lat labels -->
<g font-size="38.75" text-anchor="middle">
<text transform="translate(113.6 481.7) rotate(-90)">15°00′00″S</text>
<text transform="translate(113.6 784.2) rotate(-90)">16°30′00″S</text>
<text transform="translate(113.6 1086.7) rotate(-90)">18°00′00″S</text>
<text transform="translate(113.6 1389.2) rotate(-90)">19°30′00″S</text>
<text transform="translate(113.6 1691.7) rotate(-90)">21°00′00″S</text>
<text transform="translate(113.6 1994.2) rotate(-90)">22°30′00″S</text>
<text transform="translate(3493.9 481.7) rotate(-90)">15°00′00″S</text>
<text transform="translate(3493.9 784.2) rotate(-90)">16°30′00″S</text>
<text transform="translate(3493.9 1086.7) rotate(-90)">18°00′00″S</text>
<text transform="translate(3493.9 1389.2) rotate(-90)">19°30′00″S</text>
<text transform="translate(3493.9 1691.7) rotate(-90)">21°00′00″S</text>
<text transform="translate(3493.9 1994.2) rotate(-90)">22°30′00″S</text>
</g>

<!-- bottom panel -->
<rect x="140.2" y="2254.7" width="1207" height="185.5" fill="#fff" stroke="#000" stroke-width="3.4"/>
<rect x="1351.8" y="2254.2" width="2089.5" height="186" fill="#fff" stroke="#000" stroke-width="3.6"/>
<g font-size="41.6" text-anchor="middle">
<text x="2391" y="2311">Projeção: Latitude/Longitude - Datum SIRGAS2000</text>
<text x="2396" y="2360.6" letter-spacing="0.43">MESORREGIÕES/MG - IGAM, 2009</text>
<text x="2397" y="2411">Previsão Probabilística de Tempo Severo - SIMGE/IGAM, 2024</text>
</g>
<path d="M260.9 2315.6C258.8 2312.1 263.8 2302.9 265.8 2297.7C267.9 2292.5 270.1 2287.7 273.2 2284.2C276.3 2280.7 280.9 2278.1 284.3 2276.8C287.7 2275.5 290.4 2275.9 293.5 2276.5C296.6 2277.1 300 2278.3 302.8 2280.5C305.6 2282.7 308.4 2286.3 310.1 2289.7C311.8 2293.1 312.9 2297.3 312.9 2300.8C312.9 2304.3 311.8 2307.8 310.1 2310.6C308.4 2313.4 306.1 2315.8 302.8 2317.4C299.5 2319 294.5 2319.7 290.4 2319.9C286.3 2320.1 283 2319.4 278.1 2318.7C273.2 2318 262.9 2319.1 260.9 2315.6ZM274.4 2307.6C272.8 2305.3 276.5 2299.1 278.1 2295.9C279.8 2292.7 282.2 2289.8 284.3 2288.5C286.4 2287.2 288.3 2287.8 290.4 2288.2C292.4 2288.6 295 2289.3 296.6 2290.9C298.2 2292.5 299.8 2295.4 300.3 2297.7C300.8 2300 300.5 2302.7 299.7 2304.5C298.9 2306.3 297.4 2307.9 295.4 2308.8C293.3 2309.7 290.9 2309.9 287.4 2309.7C283.9 2309.5 275.9 2309.9 274.4 2307.6Z" fill="#78c4ee" fill-rule="evenodd"/>
<path d="M293.5 2358.7C295.2 2355.1 290.6 2345.8 288.6 2340.8C286.7 2335.8 284.6 2331.8 281.8 2328.5C279 2325.2 275.4 2322.5 272 2321.1C268.6 2319.7 265 2319.4 261.5 2319.9C258 2320.4 254 2321.7 251 2324.2C248 2326.7 245.2 2331.1 243.6 2334.7C242 2338.3 241.3 2342.2 241.5 2345.8C241.7 2349.4 242.9 2353.3 244.9 2356.2C246.9 2359.1 250 2361.7 253.5 2363C257 2364.3 261.7 2364.3 265.8 2364.2C269.9 2364.1 273.5 2363.3 278.1 2362.4C282.7 2361.5 291.8 2362.3 293.5 2358.7ZM280 2351.9C281.9 2349.7 278.2 2343.8 276.9 2340.8C275.6 2337.8 273.9 2335.6 272 2334.1C270.1 2332.6 267.5 2331.7 265.2 2331.6C262.9 2331.5 260.2 2332.1 258.4 2333.4C256.5 2334.7 254.9 2337.4 254.1 2339.6C253.3 2341.8 253 2344.3 253.5 2346.4C254 2348.5 255.1 2350.6 257.2 2351.9C259.2 2353.2 262 2354.1 265.8 2354.1C269.6 2354.1 278.1 2354.1 280 2351.9Z" fill="#0a4f9b" fill-rule="evenodd"/>
<path d="M317.2 2309.1C320.8 2309.3 324.5 2318.1 327.4 2322.4C330.3 2326.7 332.9 2330.8 334.8 2334.7C336.7 2338.6 338.3 2342.2 338.5 2345.8C338.7 2349.4 337.9 2353.3 336 2356.2C334.1 2359.1 330.7 2361.6 327.4 2363C324.1 2364.4 320 2365 316.3 2364.9C312.6 2364.8 308.5 2364.1 305.2 2362.4C301.9 2360.8 298.5 2357.9 296.6 2355C294.7 2352.1 293.8 2348.5 293.8 2345.1C293.8 2341.7 294.6 2338.7 296.6 2334.7C298.6 2330.7 302.4 2325.4 305.8 2321.1C309.2 2316.8 313.6 2308.9 317.2 2309.1ZM316.9 2324.8C319 2325.1 322 2331.1 323.7 2334.1C325.4 2337.1 326.8 2340.2 327.1 2342.7C327.4 2345.1 326.5 2347.3 325.5 2348.8C324.5 2350.3 322.9 2351.3 321.2 2351.9C319.5 2352.5 317.2 2352.7 315.1 2352.5C313.1 2352.3 310.5 2351.9 308.9 2350.7C307.2 2349.5 305.6 2347.1 305.2 2345.1C304.8 2343.1 305.5 2340.6 306.4 2338.4C307.3 2336.2 309.1 2334.5 310.8 2332.2C312.6 2329.9 314.8 2324.5 316.9 2324.8Z" fill="#0095d5" fill-rule="evenodd"/>
<clipPath id="gclip"><rect x="340" y="2270" width="300" height="108"/></clipPath>
<text x="357.5" y="2358.4" font-family="DejaVu Sans" font-size="106" font-weight="bold" fill="#0a519d" stroke="#0a519d" stroke-width="4.4" stroke-linejoin="round" style="font-stretch:normal" textLength="21" lengthAdjust="spacingAndGlyphs">I</text>
<text clip-path="url(#gclip)" x="389" y="2359.4" font-family="DejaVu Sans" font-size="119" fill="#0a519d" stroke="#0a519d" stroke-width="3.2" style="font-stretch:normal" textLength="238" lengthAdjust="spacingAndGlyphs">gam</text>
<text x="240.6" y="2403.2" font-size="23" fill="#7a7a7a" textLength="387" lengthAdjust="spacingAndGlyphs">Instituto Mineiro de Gestão das Águas</text>
<path d="M903.2 2322.9Q912 2316.5 923.5 2316.1L925.9 2311.7Q910 2313 905.2 2317.8Z" fill="#d1d3d4"/>
<path d="M917.4 2298.8L925.9 2311.7Q910 2313 905.2 2317.8Z" fill="#b5232e"/>
<path d="M890.5 2342.4L859.3 2388.9 868.5 2382 879 2377.3 889.2 2375.6 902.7 2376.3 912.9 2375.3 920.3 2371.2 923.4 2365.1 923 2361.7 919 2357.7 909.5 2352.9 899.3 2348.2 894.6 2345.5Z" fill="#d1d3d4"/>
<path d="M930.7 2325.7L965.2 2378.5 956.4 2385.3 942.9 2388.7 929.3 2387.3 917.1 2382.6 925.9 2379.2 932.7 2372.4 935.7 2365 934.7 2358.9 929.3 2353.4 919.1 2348.7 909 2344 903.6 2338.5 903.2 2332.4 907.6 2327.7 915.8 2325.3 922.5 2325Z" fill="#d1d3d4"/>
<path d="M892 2338.4L860.8 2384.9 870 2378 880.5 2373.3 890.7 2371.6 904.2 2372.3 914.4 2371.3 921.8 2367.2 924.9 2361.1 924.5 2357.7 920.5 2353.7 911 2348.9 900.8 2344.2 896.1 2341.5Z" fill="#b5232e"/>
<path d="M932.7 2321.2L967.2 2374 958.4 2380.8 944.9 2384.2 931.3 2382.8 919.1 2378.1 927.9 2374.7 934.7 2367.9 937.7 2360.5 936.7 2354.4 931.3 2348.9 921.1 2344.2 911 2339.5 905.6 2334 905.2 2327.9 909.6 2323.2 917.8 2320.8 924.5 2320.5Z" fill="#ed1c24"/>
<text x="980" y="2348" font-family="DejaVu Sans" style="font-stretch:normal" font-size="66" fill="#6d6e71" textLength="242" lengthAdjust="spacingAndGlyphs">SIMGE</text>
<text x="1102" y="2370.2" font-size="18" fill="#6d6e71" text-anchor="middle" textLength="240" lengthAdjust="spacingAndGlyphs">Sistema de Meteorologia e Recursos</text>
<text x="1102.5" y="2387.2" font-size="18" fill="#6d6e71" text-anchor="middle" textLength="167" lengthAdjust="spacingAndGlyphs">Hídricos de Minas Gerais</text>
</svg>
</body></html>
